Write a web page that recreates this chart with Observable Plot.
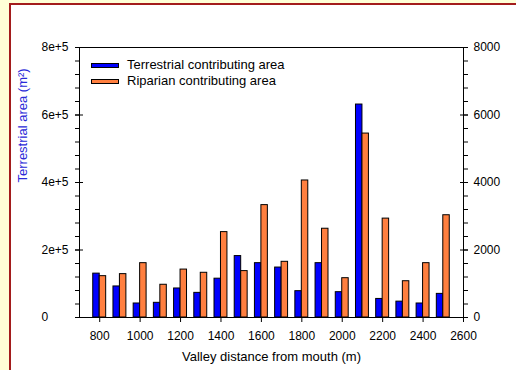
<!DOCTYPE html>
<html><head><meta charset="utf-8">
<script src="https://cdn.jsdelivr.net/npm/d3@7"></script>
<script src="https://cdn.jsdelivr.net/npm/@observablehq/plot@0.6"></script>
<style>
html,body{margin:0;padding:0;width:516px;height:370px;overflow:hidden;background:#ffffd6;font-family:"Liberation Sans",Arial,sans-serif;}
#frame{position:absolute;left:9px;top:3px;width:600px;height:500px;border-left:2.5px solid #a31c1c;border-top:2.5px solid #a31c1c;background:#fff;}
#chart{position:absolute;left:0;top:0;}
#legend{position:absolute;left:91px;top:57px;font-size:13px;line-height:16px;color:#000;}
.item{display:flex;align-items:center;height:16px;white-space:nowrap;}
.sw{width:26px;height:3px;border:1px solid #000;margin-right:8px;}
</style></head><body>
<div id="frame"></div><div id="chart"></div><div id="legend"></div>
<script>
// Data
const distance = [800, 900, 1000, 1100, 1200, 1300, 1400, 1500, 1600, 1700, 1800, 1900, 2000, 2100, 2200, 2300, 2400, 2500];
const terrestrial = [130000, 92000, 41500, 43500, 86000, 73000, 115000, 182000, 161000, 148000, 78000, 161000, 75000, 631000, 55000, 47000, 41500, 70000];
const riparian = [1225, 1285, 1610, 970, 1420, 1325, 2530, 1375, 3330, 1650, 4060, 2630, 1165, 5450, 2930, 1075, 1610, 3030];

const seriesNames = ["Terrestrial contributing area", "Riparian contributing area"];
const seriesColors = ["#0000ff", "#ff7f3f"];

const xTicks = [800, 1000, 1200, 1400, 1600, 1800, 2000, 2200, 2400, 2600];
const xTickLabels = ["800", "1000", "1200", "1400", "1600", "1800", "2000", "2200", "2400", "2600"];
const leftTicks = [0, 200000, 400000, 600000, 800000];
const leftTickLabels = ["0", "2e+5", "4e+5", "6e+5", "8e+5"];
const rightTicks = [0, 2000, 4000, 6000, 8000];
const rightTickLabels = ["0", "2000", "4000", "6000", "8000"];
const minorStepLeft = 40000;

const xTitle = "Valley distance from mouth (m)";
const yTitleLeft = "Terrestrial area (m²)";
const yTitleRight = "Riparian area (m²)";

// right axis maps 0–8000 onto the left 0–8e+5 scale
const ratio = 800000 / 8000;
const barHalf = 32; // bar width in metres

const rows = distance.map((d, i) => ({distance: d, terrestrial: terrestrial[i], riparian: riparian[i] * ratio}));
const minorTicks = d3.range(0, 800000 + 1, minorStepLeft);
const rightTicksScaled = rightTicks.map(v => v * ratio);

const chart = Plot.plot({
  width: 516, height: 370,
  marginLeft: 79, marginRight: 53, marginTop: 47, marginBottom: 53,
  style: {background: "transparent", fontFamily: "'Liberation Sans', Arial, sans-serif", fontSize: "12px", overflow: "visible", color: "#000"},
  x: {domain: [700, 2600], axis: null},
  y: {domain: [0, 800000], axis: null},
  marks: [
    Plot.rect(rows, {x1: d => d.distance - barHalf, x2: "distance", y1: 0, y2: "terrestrial", fill: seriesColors[0], stroke: "#000", strokeWidth: 1}),
    Plot.rect(rows, {x1: "distance", x2: d => d.distance + barHalf, y1: 0, y2: "riparian", fill: seriesColors[1], stroke: "#000", strokeWidth: 1}),
    Plot.frame({stroke: "#000", strokeWidth: 1}),
    // left axis
    Plot.axisY({anchor: "left", ticks: minorTicks, tickSize: 4, fill: "none", label: null}),
    Plot.axisY({anchor: "left", ticks: leftTicks, tickSize: 8, dx: 4, fill: "none", label: null}),
    Plot.axisY({anchor: "left", ticks: leftTicks, tickSize: 0, tickPadding: 38, textAnchor: "start", label: null,
      tickFormat: d => leftTickLabels[leftTicks.indexOf(d)]}),
    // right axis
    Plot.axisY({anchor: "right", ticks: minorTicks, tickSize: 4, fill: "none", label: null}),
    Plot.axisY({anchor: "right", ticks: rightTicksScaled, tickSize: 8, dx: -4, fill: "none", label: null}),
    Plot.axisY({anchor: "right", ticks: rightTicksScaled, tickSize: 0, tickPadding: 10, textAnchor: "start", label: null,
      tickFormat: d => rightTickLabels[rightTicksScaled.indexOf(d)]}),
    // bottom axis
    Plot.axisX({anchor: "bottom", ticks: xTicks, tickSize: 5, tickPadding: 9, label: null,
      tickFormat: d => xTickLabels[xTicks.indexOf(d)]}),
    // titles
    Plot.text([xTitle], {text: d => d, frameAnchor: "bottom", dy: 43, fontSize: 13, fill: "#000"}),
    Plot.text([yTitleLeft], {text: d => d, frameAnchor: "left", dx: -57, rotate: -90, fontSize: 13, fill: "#2a2ad8"}),
    Plot.text([yTitleRight], {text: d => d, frameAnchor: "right", dx: 58, rotate: -90, fontSize: 13, fill: "#d2691e"})
  ]
});
document.getElementById("chart").appendChild(chart);

const legend = document.getElementById("legend");
seriesNames.forEach((name, i) => {
  const item = document.createElement("div");
  item.className = "item";
  const sw = document.createElement("span");
  sw.className = "sw";
  sw.style.background = seriesColors[i];
  const t = document.createElement("span");
  t.textContent = name;
  item.appendChild(sw); item.appendChild(t);
  legend.appendChild(item);
});
</script>
</body></html>
